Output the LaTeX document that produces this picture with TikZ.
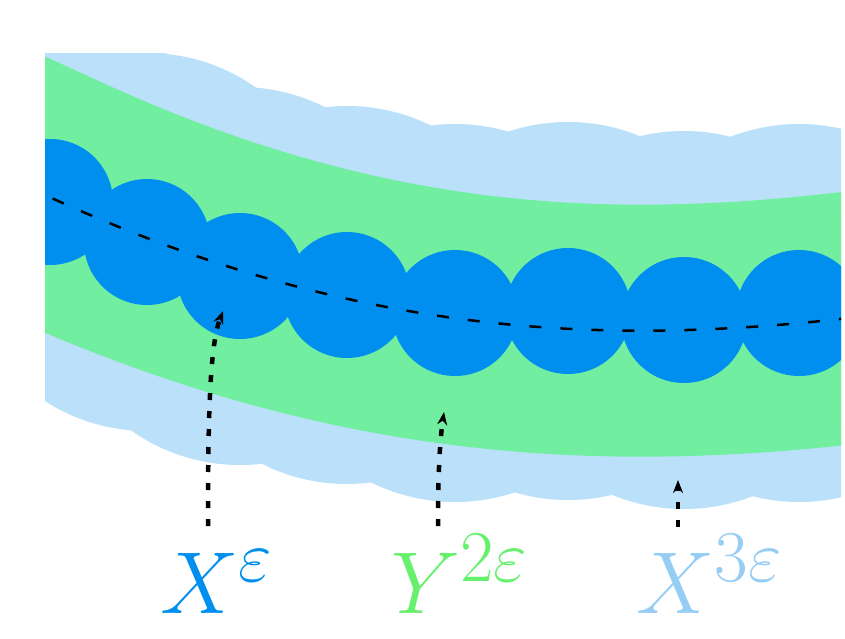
\RequirePackage{fix-cm}
\documentclass[tikz,border=0pt]{standalone}
\usetikzlibrary{arrows.meta}

\DeclareMathSizes{88}{88}{73}{61}

\definecolor{ballblue}{RGB}{0,143,238}
\definecolor{bandgreen}{RGB}{113,238,160}
\definecolor{haloblue}{RGB}{186,224,250}
\definecolor{labgreen}{RGB}{102,240,110}
\definecolor{lablight}{RGB}{150,205,245}

\begin{document}
\begin{tikzpicture}[x=1pt,y=-1pt,>=Stealth,
  dotarrow/.style={line width=4.5pt,dash pattern=on 7pt off 11pt,
    -{Stealth[length=13pt,width=10pt]}},
  lbl/.style={anchor=base west,inner sep=0pt,font=\fontsize{88}{88}\selectfont}]

\useasboundingbox (0,0) rectangle (845,639);

% ============================================================
% 1. CLIPPED STRIP
% ============================================================

\begin{scope}
\clip (45,54) rectangle (841,639);

% 3eps halo (union of big balls)
\foreach \cx/\cy in {50/202,147/242,240/276,347/295,455/313,568/311,684/320,799/313}{
  \fill[haloblue] (\cx,\cy) circle[radius=189pt];
}

% 2eps tube around the curve
\draw[bandgreen,line width=252pt]
  (-60,147) -- (45,195) .. controls (345,333) and (590,346.5) .. (840,319) -- (940,308);

% eps balls
\foreach \cx/\cy in {50/202,147/242,240/276,347/295,455/313,568/311,684/320,799/313}{
  \fill[ballblue] (\cx,\cy) circle[radius=63pt];
}

% center curve
\draw[black,line width=2.5pt,dash pattern=on 12pt off 19pt]
  (-60,147) -- (45,195) .. controls (345,333) and (590,346.5) .. (840,319) -- (940,308);
\end{scope}

% ============================================================
% 2. LABELS
% ============================================================

\node[lbl,text=ballblue] (xeps)   at (160,613) {$X^{\varepsilon}$};
\node[lbl,text=labgreen] (ytwo)   at (391,613) {$Y^{2\varepsilon}$};
\node[lbl,text=lablight] (xthree) at (636,613) {$X^{3\varepsilon}$};

% arrow ends
\coordinate (xtail) at (208,526);
\coordinate (xhead) at (223,311);
\coordinate (ytail) at (438,526);
\coordinate (yhead) at (444,412);
\coordinate (ztail) at (678,527);
\coordinate (zhead) at (678,480);

\draw[dotarrow] (xtail) .. controls (208,410) and (210,345) .. (xhead);
\draw[dotarrow] (ytail) .. controls (438,470) and (440,440) .. (yhead);
\draw[dotarrow] (ztail) -- (zhead);

\end{tikzpicture}
\end{document}
